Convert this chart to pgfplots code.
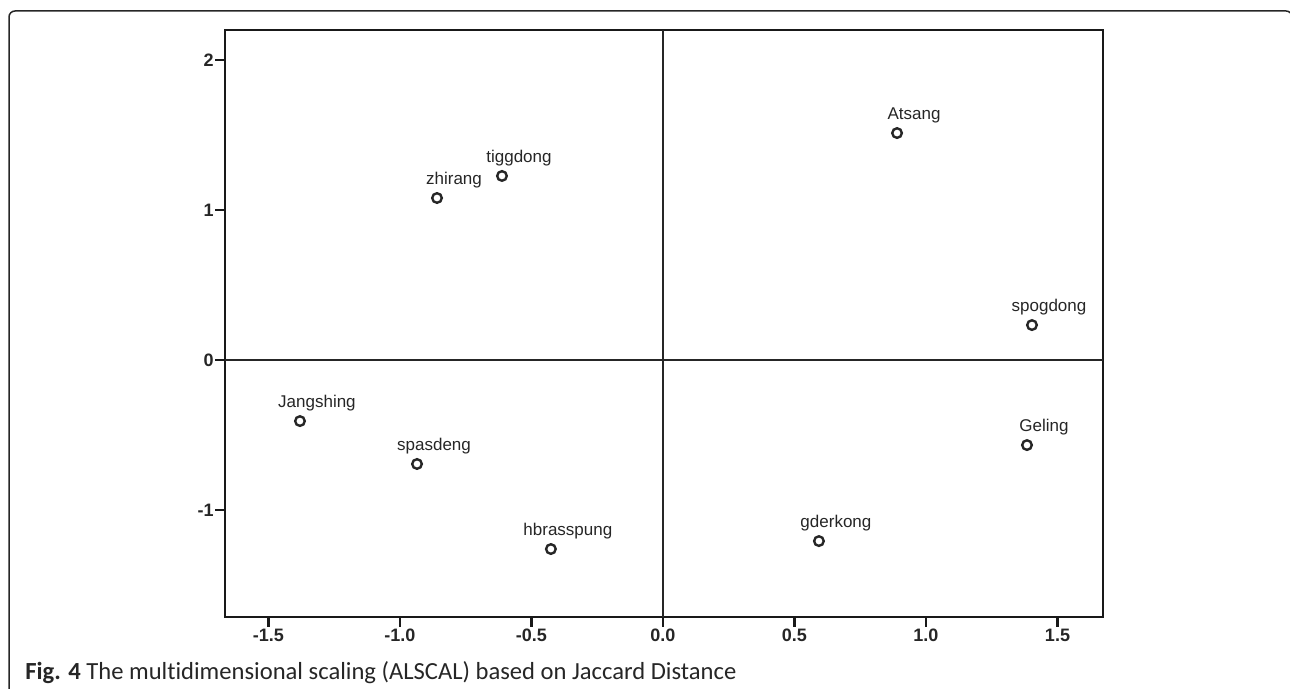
\documentclass[border=0pt]{standalone}
\usepackage{pgfplots}
\pgfplotsset{compat=1.18}
\usepackage{fontspec}
\setmainfont{Liberation Sans}
\newfontfamily\capfont[Ligatures=NoCommon]{Carlito}
\begin{document}
\begin{tikzpicture}
\path[use as bounding box] (0,0) rectangle (645pt,344.5pt);
\draw[line width=0.75pt, rounded corners=3pt, black!85] (4.5pt,-5pt) -- (4.5pt,339pt) -- (646pt,339pt) -- (646pt,-5pt);
\begin{axis}[
  at={(112.5pt,36pt)}, anchor=south west, scale only axis,
  width=439pt, height=293.5pt,
  xmin=-1.665, xmax=1.673, ymin=-1.713, ymax=2.2,
  xtick={-1.5,-1,-0.5,0,0.5,1,1.5},
  xticklabels={-1.5,-1.0,-0.5,0.0,0.5,1.0,1.5},
  ytick={-1,0,1,2}, yticklabels={-1,0,1,2},
  tick align=outside, tick pos=left, major tick length=5pt,
  axis line style={line width=1.3pt, black!90},
  every tick/.style={line width=1.1pt, black!90},
  tick label style={font=\fontsize{9}{10}\selectfont\bfseries, black!85},
  xticklabel style={inner sep=1pt},
  yticklabel style={inner sep=0.5pt},
  clip=false,
]
\addplot[line width=1pt, black!85] coordinates {(0,-1.713) (0,2.2)};
\addplot[line width=1pt, black!85] coordinates {(-1.665,0) (1.673,0)};
\addplot[only marks, mark=o, mark size=2.4pt, mark options={line width=1.2pt, black!85},
  nodes near coords, point meta=explicit symbolic,
  every node near coord/.append style={anchor=center, xshift=8.5pt, yshift=9pt, inner sep=0pt,
    font=\fontsize{8.5}{9}\selectfont, black!85}]
  table[meta=label] {
x y label
-1.380 -0.407 Jangshing
-0.935 -0.693 spasdeng
-0.426 -1.260 hbrasspung
-0.859 1.080 zhirang
-0.612 1.227 tiggdong
0.890 1.513 Atsang
1.403 0.233 spogdong
1.384 -0.567 Geling
0.593 -1.207 gderkong
};
\end{axis}
\node[anchor=base west, inner sep=0pt, black!85] at (12.5pt,4.5pt) {\capfont\fontsize{12.3}{13}\selectfont\textbf{Fig. 4} The multidimensional scaling (ALSCAL) based on Jaccard Distance};
\end{tikzpicture}
\end{document}
